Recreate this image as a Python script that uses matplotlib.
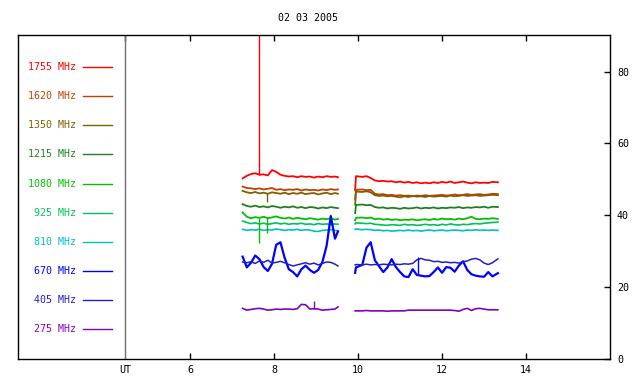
import numpy as np
import matplotlib
matplotlib.use("Agg")
import matplotlib.pyplot as plt

plt.rcParams['font.family'] = ['DejaVu Sans Mono']
plt.rcParams['font.size'] = 7.2

# sample times (UT hours), two observing blocks
t_am = [7.25, 7.35, 7.45, 7.55, 7.65, 7.75, 7.85, 7.95, 8.05, 8.15, 8.25, 8.35,
        8.45, 8.55, 8.65, 8.75, 8.85, 8.95, 9.05, 9.15, 9.25, 9.35, 9.45, 9.52]
t_pm = [9.93, 9.95, 10.1, 10.2, 10.3, 10.4, 10.5, 10.6, 10.7, 10.8, 10.9, 11.0,
        11.1, 11.2, 11.3, 11.4, 11.5, 11.6, 11.7, 11.8, 11.9, 12.0, 12.1, 12.2,
        12.3, 12.4, 12.5, 12.6, 12.7, 12.8, 12.9, 13.0, 13.1, 13.2, 13.33]

freqs = ['1755', '1620', '1350', '1215', '1080', '925', '810', '670', '405', '275']
colors = ['#ff0000', '#c04000', '#7f5f00', '#208020', '#00c000',
          '#00c060', '#00c0c0', '#0000ff', '#2020c0', '#8000c0']
widths = [1.3, 1.3, 1.3, 1.3, 1.3, 1.2, 1.2, 1.6, 1.1, 1.2]

a1755 = [50.3, 51.0, 51.5, 51.7, 51.3, 51.4, 51.1, 52.6, 52.1, 51.3, 51.0, 50.8,
         50.9, 50.6, 50.9, 50.7, 50.8, 50.5, 50.8, 50.6, 50.9, 50.7, 50.8, 50.6]
b1755 = [47.0, 50.9, 50.7, 50.9, 50.4, 49.7, 49.5, 49.6, 49.4, 49.5, 49.2, 49.4,
         49.1, 49.3, 49.0, 49.2, 48.9, 49.1, 48.9, 49.2, 49.0, 49.3, 49.1, 49.4,
         49.0, 49.2, 49.4, 49.1, 48.9, 49.2, 49.0, 49.1, 49.0, 49.3, 49.2]
a1620 = [48.0, 47.6, 47.5, 47.3, 47.5, 47.2, 47.4, 47.6, 47.1, 47.3, 47.0, 47.2,
         47.1, 47.3, 46.9, 47.2, 47.0, 47.1, 46.9, 47.2, 47.0, 47.3, 47.1, 47.2]
b1620 = [44.5, 47.1, 47.2, 47.0, 47.1, 46.0, 45.8, 45.9, 45.6, 45.7, 45.5, 45.6,
         45.4, 45.5, 45.3, 45.5, 45.4, 45.6, 45.4, 45.5, 45.6, 45.7, 45.5, 45.6,
         45.8, 45.6, 45.7, 45.9, 45.7, 45.8, 45.9, 45.7, 45.8, 46.0, 45.9]
a1350 = [46.8, 46.4, 46.2, 46.5, 46.1, 46.3, 46.0, 46.4, 46.2, 46.0, 46.3, 45.9,
         46.2, 46.0, 46.3, 45.9, 46.1, 46.2, 45.8, 46.1, 46.3, 45.9, 46.2, 46.0]
b1350 = [43.0, 46.6, 46.5, 46.7, 46.4, 45.6, 45.4, 45.5, 45.3, 45.4, 45.2, 45.0,
         45.3, 45.1, 45.4, 45.2, 45.3, 45.1, 45.4, 45.2, 45.3, 45.4, 45.2, 45.5,
         45.3, 45.4, 45.6, 45.4, 45.5, 45.6, 45.4, 45.5, 45.6, 45.7, 45.6]
a1215 = [43.1, 42.6, 42.4, 42.7, 42.3, 42.5, 42.2, 42.6, 42.4, 42.1, 42.4, 42.2,
         42.5, 42.1, 42.3, 42.0, 42.3, 42.2, 41.9, 42.2, 42.0, 42.3, 42.1, 42.0]
b1215 = [40.6, 42.9, 43.0, 42.8, 42.9, 42.3, 42.1, 42.2, 41.9, 42.1, 42.0, 41.8,
         42.1, 41.9, 42.0, 42.2, 41.9, 42.1, 42.0, 42.2, 41.9, 42.1, 42.0, 42.2,
         42.1, 42.3, 42.0, 42.2, 42.1, 42.3, 42.2, 42.4, 42.1, 42.4, 42.3]
a1080 = [40.8, 39.6, 39.2, 39.5, 39.3, 39.6, 39.2, 39.4, 39.7, 39.3, 39.1, 39.4,
         39.0, 39.3, 39.1, 38.9, 39.2, 39.0, 38.8, 39.1, 38.9, 39.2, 38.8, 39.0]
b1080 = [38.6, 39.3, 39.4, 39.2, 39.4, 38.9, 39.1, 38.8, 39.0, 38.7, 38.9, 38.6,
         38.8, 38.7, 38.9, 38.6, 38.8, 38.9, 38.7, 39.0, 38.8, 39.1, 38.9, 39.0,
         38.8, 39.1, 38.9, 39.2, 39.6, 39.0, 38.9, 39.1, 39.0, 39.2, 39.0]
a925 = [38.4, 38.0, 37.7, 37.9, 37.6, 37.8, 37.5, 37.7, 37.9, 37.6, 37.8, 37.5,
        37.7, 37.6, 37.8, 37.5, 37.6, 37.4, 37.7, 37.5, 37.6, 37.4, 37.6, 37.5]
b925 = [37.6, 37.9, 37.8, 37.7, 37.8, 37.5, 37.4, 37.3, 37.2, 37.4, 37.3, 37.2,
        37.5, 37.3, 37.4, 37.2, 37.3, 37.5, 37.3, 37.4, 37.2, 37.5, 37.3, 37.6,
        37.4, 37.3, 37.5, 37.4, 37.6, 37.7, 37.6, 37.8, 37.9, 38.0, 38.1]
a810 = [36.1, 35.8, 36.0, 35.9, 36.1, 35.8, 36.0, 35.9, 36.2, 36.0, 35.8, 36.0,
        35.9, 36.1, 35.8, 36.0, 35.9, 35.6, 35.5, 35.8, 35.9, 36.0, 35.8, 35.7]
b810 = [36.1, 36.2, 36.0, 36.1, 36.0, 35.8, 35.9, 35.7, 35.8, 35.6, 35.7, 35.8,
        35.7, 35.9, 35.7, 35.8, 35.6, 35.8, 35.9, 35.7, 35.8, 35.9, 35.7, 35.8,
        35.9, 35.8, 35.7, 35.9, 35.8, 36.0, 35.8, 35.9, 35.8, 35.9, 35.8]
a670 = [28.5, 25.5, 26.8, 28.8, 27.8, 25.6, 24.5, 26.5, 31.8, 32.5, 28.2, 25.0,
        24.2, 23.0, 25.0, 26.0, 24.8, 24.0, 24.8, 27.0, 31.5, 39.8, 33.5, 35.5]
b670 = [24.0, 25.5, 26.2, 31.0, 32.5, 27.5, 25.8, 24.2, 25.5, 27.8, 25.6, 24.2,
        23.0, 22.8, 25.0, 23.4, 23.2, 23.0, 23.1, 24.2, 25.5, 24.0, 25.6, 25.4,
        24.3, 26.0, 27.2, 24.8, 23.6, 23.2, 23.0, 22.9, 24.2, 23.0, 23.9]
a405 = [27.0, 26.8, 27.1, 26.6, 27.3, 26.9, 27.5, 26.7, 26.9, 27.2, 26.8, 26.3,
        25.9, 26.2, 26.5, 26.8, 26.4, 26.7, 26.2, 26.6, 27.0, 26.9, 26.4, 25.9]
b405 = [26.2, 26.3, 26.2, 26.4, 26.2, 26.3, 26.2, 26.4, 26.3, 26.2, 26.4, 26.3,
        26.5, 26.4, 26.6, 27.6, 28.0, 27.6, 27.5, 27.1, 27.2, 26.9, 27.0, 26.8,
        26.9, 26.7, 27.1, 27.3, 27.8, 28.0, 27.6, 26.7, 26.3, 26.8, 27.9]
a275 = [14.1, 13.6, 13.8, 14.0, 14.1, 13.9, 13.6, 13.7, 13.9, 13.8, 13.9, 13.9,
        13.8, 14.0, 15.2, 15.1, 13.9, 14.0, 13.9, 13.6, 13.7, 13.8, 13.9, 14.5]
b275 = [13.4, 13.4, 13.4, 13.5, 13.4, 13.4, 13.4, 13.4, 13.3, 13.4, 13.4, 13.4,
        13.4, 13.6, 13.6, 13.6, 13.6, 13.6, 13.6, 13.6, 13.6, 13.6, 13.6, 13.6,
        13.5, 13.3, 13.8, 14.1, 13.5, 14.0, 14.1, 13.9, 13.7, 13.7, 13.7]

am = [a1755, a1620, a1350, a1215, a1080, a925, a810, a670, a405, a275]
pm = [b1755, b1620, b1350, b1215, b1080, b925, b810, b670, b405, b275]

# single-sample spikes: time, channel index, low, high
spike_t = [7.65, 7.64, 7.82, 7.82, 8.96, 11.43]
spike_ch = [0, 4, 2, 4, 9, 7]
spike_lo = [51.3, 32.3, 43.8, 35.1, 13.9, 23.4]
spike_hi = [91.0, 39.3, 46.2, 39.2, 16.2, 28.4]

ut_line = 4.45

fig = plt.figure(figsize=(6.4, 3.84), dpi=100)
ax = fig.add_axes([18/640, 25/384, 592/640, 324/384])

for i in range(len(freqs)):
    ax.plot(t_am, am[i], color=colors[i], lw=widths[i])
    ax.plot(t_pm, pm[i], color=colors[i], lw=widths[i])
for k in range(len(spike_t)):
    ax.vlines(spike_t[k], spike_lo[k], spike_hi[k], color=colors[spike_ch[k]], lw=1.0)

ax.axvline(ut_line, color='#707070', lw=1.0)

# legend column on the left of the UT line
for i, (f, c) in enumerate(zip(freqs, colors)):
    y = 81.3 - 8.12 * i
    ax.plot([3.45, 4.14], [y, y], color=c, lw=1.0)
    ax.text(3.29, y, f + ' MHz', color=c, ha='right', va='center')

ax.set_xlim(1.9, 16.0)
ax.set_ylim(0, 90.2)

ax.set_xticks([ut_line, 6, 8, 10, 12, 14])
ax.set_xticklabels(['UT', '6', '8', '10', '12', '14'])
ticks = ax.xaxis.get_major_ticks()
ticks[0].tick1line.set_visible(False)
ticks[0].tick2line.set_visible(False)
ax.tick_params(axis='x', direction='in', length=4, width=1, top=True, pad=4)

ax.yaxis.tick_right()
ax.set_yticks([0, 20, 40, 60, 80])
ax.tick_params(axis='y', direction='in', length=4, width=1, left=False,
               right=True, labelright=True, labelleft=False, pad=5)

for s in ax.spines.values():
    s.set_linewidth(1.0)

fig.text(308/640, 1 - 18/384, '02 03 2005', ha='center', va='center')

fig.savefig('out.png', dpi=100)
